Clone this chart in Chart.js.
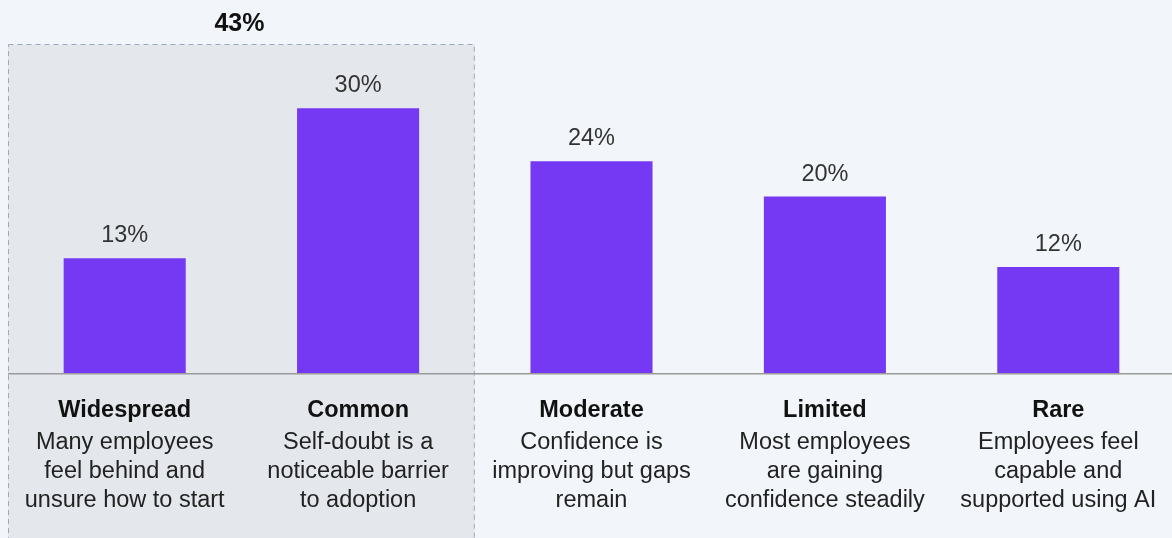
<!DOCTYPE html>
<html>
<head>
<meta charset="utf-8">
<script src="https://cdn.jsdelivr.net/npm/chart.js@4/dist/chart.umd.min.js"></script>
<style>
  html, body { margin: 0; padding: 0; background: #f2f5f9; overflow: hidden; }
  #wrap { width: 1175px; height: 538px; }
</style>
</head>
<body>
<div id="wrap"><canvas id="chart" width="1175" height="538"></canvas></div>
<script>
  const categories = ['Widespread', 'Common', 'Moderate', 'Limited', 'Rare'];
  const values = [13, 30, 24, 20, 12];
  const descriptions = [
    ['Many employees', 'feel behind and', 'unsure how to start'],
    ['Self-doubt is a', 'noticeable barrier', 'to adoption'],
    ['Confidence is', 'improving but gaps', 'remain'],
    ['Most employees', 'are gaining', 'confidence steadily'],
    ['Employees feel', 'capable and', 'supported using AI']
  ];
  // first two categories are grouped in the shaded box
  const groupCount = 2;
  const groupLabel = '43%';

  const FONT = '"Liberation Sans", Arial, Helvetica, sans-serif';

  const decorations = {
    id: 'decorations',
    beforeDatasetsDraw(chart) {
      const ctx = chart.ctx;
      const area = chart.chartArea;
      const x = chart.scales.x;
      const step = (area.right - area.left) / categories.length;
      const boxLeft = area.left;
      const boxRight = x.getPixelForValue(groupCount - 1) + step / 2;
      const boxTop = 44.5;

      ctx.save();
      ctx.fillStyle = '#e4e7ec';
      ctx.fillRect(boxLeft, boxTop, boxRight - boxLeft, chart.height - boxTop + 5);
      ctx.strokeStyle = '#9aabc0';
      ctx.lineWidth = 1;
      ctx.setLineDash([5, 4]);
      ctx.strokeRect(boxLeft + 0.5, boxTop, boxRight - boxLeft - 1, chart.height - boxTop + 5);
      ctx.setLineDash([]);

      ctx.fillStyle = '#111';
      ctx.font = 'bold 25px ' + FONT;
      ctx.textAlign = 'center';
      ctx.textBaseline = 'alphabetic';
      ctx.fillText(groupLabel, (boxLeft + boxRight) / 2 - 2, 31);

      // baseline axis
      ctx.strokeStyle = '#9a9a9a';
      ctx.lineWidth = 1.5;
      ctx.beginPath();
      ctx.moveTo(area.left, area.bottom + 0.75);
      ctx.lineTo(area.right, area.bottom + 0.75);
      ctx.stroke();
      ctx.restore();
    },
    afterDatasetsDraw(chart) {
      const ctx = chart.ctx;
      const area = chart.chartArea;
      const meta = chart.getDatasetMeta(0);
      ctx.save();
      ctx.textAlign = 'center';
      ctx.textBaseline = 'alphabetic';
      meta.data.forEach((bar, i) => {
        ctx.fillStyle = '#333';
        ctx.font = '23.5px ' + FONT;
        ctx.fillText(values[i] + '%', bar.x, bar.y - 16);

        ctx.fillStyle = '#111';
        ctx.font = 'bold 23.5px ' + FONT;
        ctx.fillText(categories[i], bar.x, area.bottom + 44);
        ctx.font = '23.5px ' + FONT;
        ctx.fillStyle = '#222';
        descriptions[i].forEach((line, j) => {
          ctx.fillText(line, bar.x, area.bottom + 76 + j * 29);
        });
      });
      ctx.restore();
    }
  };

  const ctx = document.getElementById('chart').getContext('2d');
  const myChart = new Chart(ctx, {
    type: 'bar',
    data: {
      labels: categories,
      datasets: [{
        data: values,
        backgroundColor: '#7639f3',
        borderWidth: 0,
        categoryPercentage: 1,
        barPercentage: 0.523
      }]
    },
    options: {
      responsive: false,
      animation: false,
      layout: { padding: { left: 8, right: 0, top: 20, bottom: 165 } },
      plugins: {
        legend: { display: false },
        tooltip: { enabled: false }
      },
      scales: {
        x: { display: false },
        y: { display: false, min: 0, max: 40 }
      }
    },
    plugins: [decorations]
  });
</script>
</body>
</html>
